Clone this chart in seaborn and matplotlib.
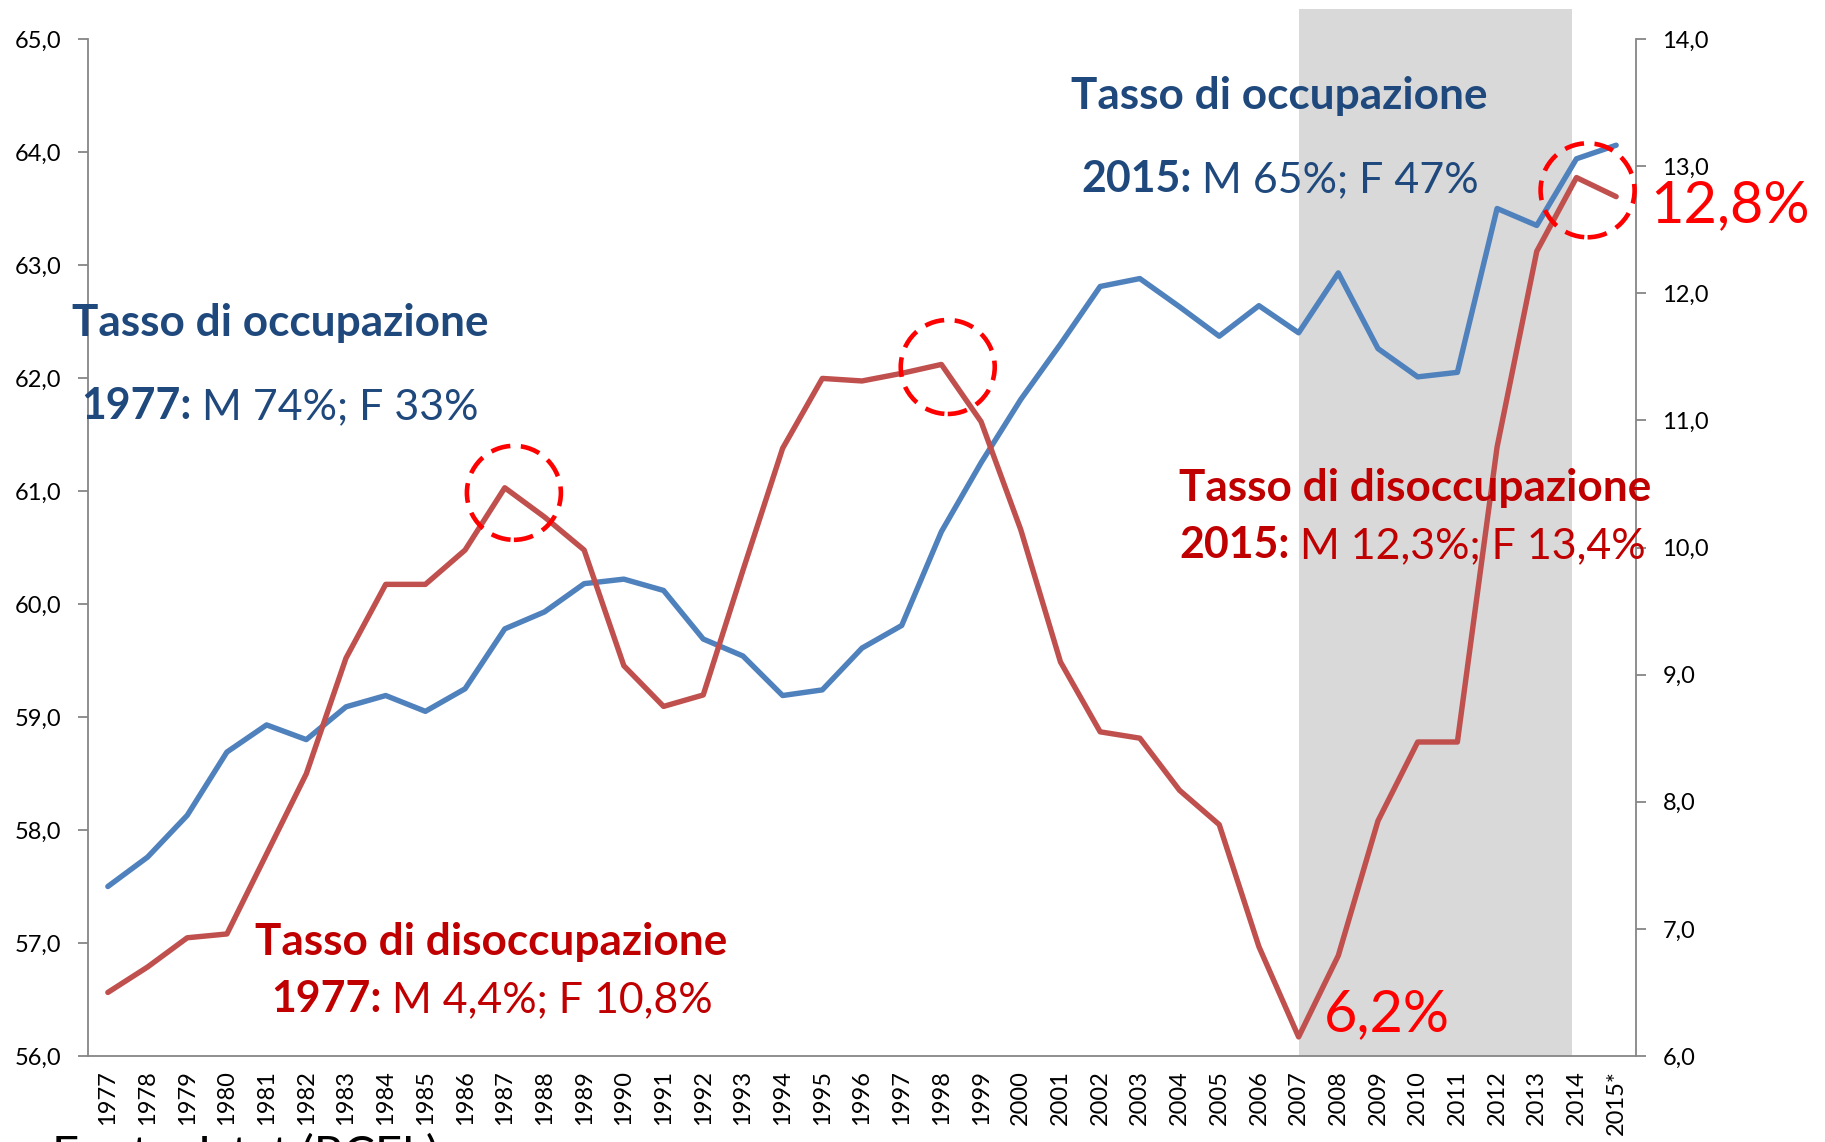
import numpy as np
import pandas as pd
import matplotlib
matplotlib.use("Agg")
import matplotlib.pyplot as plt
import seaborn as sns
from matplotlib.patches import Ellipse

# ---------------- data ----------------
years = ['1977', '1978', '1979', '1980', '1981', '1982', '1983', '1984', '1985', '1986',
         '1987', '1988', '1989', '1990', '1991', '1992', '1993', '1994', '1995', '1996',
         '1997', '1998', '1999', '2000', '2001', '2002', '2003', '2004', '2005', '2006',
         '2007', '2008', '2009', '2010', '2011', '2012', '2013', '2014', '2015*']
occupazione = [57.50, 57.76, 58.13, 58.69, 58.93, 58.80, 59.09, 59.19, 59.05, 59.25,
               59.78, 59.93, 60.18, 60.22, 60.12, 59.69, 59.54, 59.19, 59.24, 59.61,
               59.81, 60.64, 61.25, 61.81, 62.30, 62.81, 62.88, 62.63, 62.37, 62.64,
               62.40, 62.93, 62.26, 62.01, 62.05, 63.50, 63.35, 63.94, 64.06]
disoccupazione = [6.50, 6.70, 6.93, 6.96, 7.59, 8.22, 9.13, 9.71, 9.71, 9.98,
                  10.47, 10.24, 9.98, 9.07, 8.75, 8.84, 9.82, 10.78, 11.33, 11.31,
                  11.37, 11.44, 10.99, 10.14, 9.10, 8.55, 8.50, 8.09, 7.82, 6.86,
                  6.15, 6.79, 7.85, 8.47, 8.47, 10.79, 12.33, 12.91, 12.76]
left_ticks = [56, 57, 58, 59, 60, 61, 62, 63, 64, 65]
right_ticks = [6, 7, 8, 9, 10, 11, 12, 13, 14]
shade_from, shade_to = '2007', '2014'
circled_years = ['1987', '1998', '2014']

BLUE = '#4F81BD'
RED = '#C0504D'
DARKBLUE = '#1F497D'
DARKRED = '#C00000'
BRIGHT = '#FF0000'
GRAYAX = '#868686'

sns.set_style('white')
plt.rcParams['font.family'] = ['Lato', 'DejaVu Sans']

W, H = 1825, 1142
fig = plt.figure(figsize=(W / 100, H / 100), dpi=100)
L, R, B, T = 88, 1636, 1056, 39
ax = fig.add_axes([L / W, 1 - B / H, (R - L) / W, (B - T) / H])
ax2 = ax.twinx()

n = len(years)
df = pd.DataFrame({'idx': np.arange(n), 'anno': years,
                   'occ': occupazione, 'dis': disoccupazione})

# shaded crisis period
i0, i1 = years.index(shade_from), years.index(shade_to)
span = ax.axvspan(i0, i1 - 0.1, ymin=0, ymax=1 + 30 / (B - T), color='#D9D9D9',
                  zorder=0, lw=0)
span.set_clip_on(False)

sns.lineplot(data=df, x='idx', y='occ', ax=ax, color=BLUE, linewidth=3.9, legend=False)
sns.lineplot(data=df, x='idx', y='dis', ax=ax2, color=RED, linewidth=3.9, legend=False)

ax.set_xlim(-0.5, n - 0.5)
ax.set_ylim(left_ticks[0], left_ticks[-1])
ax2.set_ylim(right_ticks[0], right_ticks[-1])
ax.set_yticks(left_ticks)
ax.set_yticklabels([f"{v:.1f}".replace('.', ',') for v in left_ticks])
ax2.set_yticks(right_ticks)
ax2.set_yticklabels([f"{v:.1f}".replace('.', ',') for v in right_ticks])
ax.set_xticks(np.arange(n))
ax.set_xticklabels(years, rotation=90)
ax.set_xticks(np.arange(n + 1) - 0.5, minor=True)
ax.set_xlabel('')
ax.set_ylabel('')
ax2.set_ylabel('')

for a in (ax, ax2):
    for s in a.spines.values():
        s.set_color(GRAYAX)
        s.set_linewidth(1.3)
    a.spines['top'].set_visible(False)
ax.spines['right'].set_visible(False)
ax2.spines['left'].set_visible(False)
ax2.spines['bottom'].set_visible(False)

TK = 17
ax.tick_params(axis='x', which='major', length=0, pad=10, labelsize=TK, labelcolor='black')
ax.tick_params(axis='x', which='minor', length=7, width=1.3, color=GRAYAX, direction='out')
ax.tick_params(axis='y', length=7, width=1.3, color=GRAYAX, pad=12, labelsize=TK,
               labelcolor='black', left=True)
ax2.tick_params(axis='y', length=7, width=1.3, color=GRAYAX, pad=12, labelsize=TK,
                labelcolor='black', right=True)
ax.grid(False)
ax2.grid(False)

# dashed circles around key unemployment points
pxx = (R - L) / n
pxy = (B - T) / (right_ticks[-1] - right_ticks[0])
rad = 47
offsets = {'1987': (0.23, -0.04), '1998': (0.16, -0.02), '2014': (0.28, -0.10)}
for y in circled_years:
    k = years.index(y)
    dx, dy = offsets[y]
    e = Ellipse((k + dx, disoccupazione[k] + dy), width=2 * rad / pxx, height=2 * rad / pxy,
                fill=False, edgecolor=BRIGHT, linewidth=3.3,
                linestyle=(0, (4.3, 2.3)), clip_on=False, zorder=5)
    ax2.add_patch(e)


def fx(x):
    return x / W


def fy(y):
    return 1 - y / H


TS = 31.8
MS = 30.9


def mixed(x, y, bold, rest, color):
    t1 = fig.text(fx(x), fy(y), bold, fontsize=MS, fontweight='bold', color=color,
                  va='baseline', ha='left')
    ax2.annotate(rest, xy=(1, 0), xycoords=t1, va='bottom', ha='left',
                 fontsize=MS, color=color, annotation_clip=False)


fig.text(fx(72), fy(336), 'Tasso di occupazione', fontsize=TS, fontweight='bold',
         color=DARKBLUE, va='baseline')
mixed(81, 419, '1977:', ' M 74%; F 33%', DARKBLUE)

fig.text(fx(1071), fy(109), 'Tasso di occupazione', fontsize=TS, fontweight='bold',
         color=DARKBLUE, va='baseline')
mixed(1081, 192, '2015:', ' M 65%; F 47%', DARKBLUE)

fig.text(fx(1179), fy(501), 'Tasso di disoccupazione', fontsize=TS, fontweight='bold',
         color=DARKRED, va='baseline')
mixed(1179, 558, '2015:', ' M 12,3%; F 13,4%', DARKRED)

fig.text(fx(255), fy(955), 'Tasso di disoccupazione', fontsize=TS, fontweight='bold',
         color=DARKRED, va='baseline')
mixed(271, 1012, '1977:', ' M 4,4%; F 10,8%', DARKRED)

fig.text(fx(1324), fy(1031), '6,2%', fontsize=41.5, color=BRIGHT, va='baseline')
fig.text(fx(1650), fy(222), '12,8%', fontsize=41.5, color=BRIGHT, va='baseline')

fig.text(fx(52), fy(1169), 'Fonte: Istat (RCFL)', fontsize=34, color='black', va='baseline')

fig.savefig('out.png', dpi=100)
